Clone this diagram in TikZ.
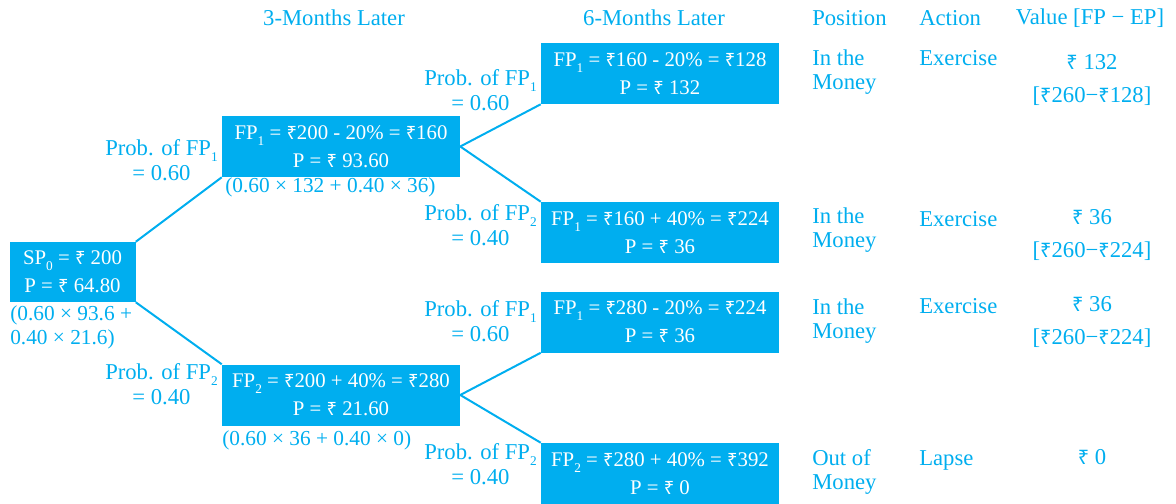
\documentclass[tikz,border=0pt]{standalone}
\usepackage{fontspec}
\setmainfont{Liberation Serif}
\newfontfamily\rsfont[Scale=0.88]{Noto Sans}
\usepackage{tikz}
\usetikzlibrary{positioning}
\definecolor{optcyan}{RGB}{0,174,239}
\newcommand{\sub}[1]{\raisebox{-4.5pt}{\fontsize{10}{10}\selectfont #1}}
\newcommand{\Rs}{{\rsfont ₹}}
\tikzset{
  optbox/.style={fill=optcyan,text=white,align=center,inner sep=0pt,
    minimum width=178.5pt,minimum height=45.75pt,
    font=\fontsize{15.6}{21}\selectfont},
  optlbl/.style={text=optcyan,inner sep=0pt,
    font=\fontsize{17}{18.5}\selectfont},
  optsum/.style={optlbl,font=\fontsize{16}{18.5}\selectfont},
  optlink/.style={optcyan,line width=1.5pt}
}
\begin{document}
\begin{tikzpicture}[x=0.75pt,y=-0.75pt]
    \useasboundingbox (0,0) rectangle (1176,503);
    % headers
    \node[optlbl] (hthree) at (334,18) {3-Months Later};
    \node[optlbl] (hsix) at (654,18) {6-Months Later};
    \node[optlbl,anchor=west] (hpos) at (812,18) {Position};
    \node[optlbl,anchor=west] (hact) at (919,18) {Action};
    \node[optlbl] (hval) at (1090,18) {Value [FP − EP]};
    % tree boxes
    \node[optbox,minimum width=94.5pt,minimum height=45pt] (sp) at (72.5,272)
      {SP\sub{0} = \Rs\ 200\\P = \Rs\ 64.80};
    \node[optbox] (a) at (341,146.5) {FP\sub{1} = \Rs200 - 20\% = \Rs160\\P = \Rs\ 93.60};
    \node[optbox] (b) at (341,395) {FP\sub{2} = \Rs200 + 40\% = \Rs280\\P = \Rs\ 21.60};
    \node[optbox] (aa) at (660,73.5) {FP\sub{1} = \Rs160 - 20\% = \Rs128\\P = \Rs\ 132};
    \node[optbox] (ab) at (660,232.5) {FP\sub{1} = \Rs160 + 40\% = \Rs224\\P = \Rs\ 36};
    \node[optbox] (ba) at (660,322) {FP\sub{1} = \Rs280 - 20\% = \Rs224\\P = \Rs\ 36};
    \node[optbox] (bb) at (660,473.5) {FP\sub{2} = \Rs280 + 40\% = \Rs392\\P = \Rs\ 0};
    % branches
    \draw[optlink] (sp.north east) -- (a.south west);
    \draw[optlink] (sp.south east) -- (b.north west);
    \draw[optlink] (a.east) -- (aa.south west);
    \draw[optlink] (a.east) -- (ab.north west);
    \draw[optlink] (b.east) -- (ba.south west);
    \draw[optlink] (b.east) -- (bb.north west);
    % probabilities
    \node[optlbl,align=center,anchor=east] (pa) at (218,160) {Prob. of FP\sub{1}\\= 0.60};
    \node[optlbl,align=center,anchor=east] (pb) at (218,384) {Prob. of FP\sub{2}\\= 0.40};
    \node[optlbl,align=center,anchor=east] (paa) at (537,90) {Prob. of FP\sub{1}\\= 0.60};
    \node[optlbl,align=center,anchor=east] (pab) at (537,225) {Prob. of FP\sub{2}\\= 0.40};
    \node[optlbl,align=center,anchor=east] (pba) at (537,321) {Prob. of FP\sub{1}\\= 0.60};
    \node[optlbl,align=center,anchor=east] (pbb) at (537,464) {Prob. of FP\sub{2}\\= 0.40};
    % expected values
    \node[optsum,align=left,anchor=north west] (esp) at (10,305) {(0.60 × 93.6 +\\0.40 × 21.6)};
    \node[optsum,anchor=west] (ea) at (225,187) {(0.60 × 132 + 0.40 × 36)};
    \node[optsum,anchor=west] (eb) at (222,440) {(0.60 × 36 + 0.40 × 0)};
    % outcome columns
    \node[optlbl,align=left,anchor=west] (posa) at (812,72) {In the\\Money};
    \node[optlbl,align=left,anchor=west] (posb) at (812,230) {In the\\Money};
    \node[optlbl,align=left,anchor=west] (posc) at (812,321) {In the\\Money};
    \node[optlbl,align=left,anchor=west] (posd) at (812,472) {Out of\\Money};
    \node[optlbl,anchor=west] (acta) at (919,58) {Exercise};
    \node[optlbl,anchor=west] (actb) at (919,219) {Exercise};
    \node[optlbl,anchor=west] (actc) at (919,306) {Exercise};
    \node[optlbl,anchor=west] (actd) at (919,460) {Lapse};
    \node[optlbl,align=center,font=\fontsize{17}{25}\selectfont] (vala) at (1092,80) {\Rs\ 132\\{[\Rs260−\Rs128]}};
    \node[optlbl,align=center,font=\fontsize{17}{25}\selectfont] (valb) at (1092,235) {\Rs\ 36\\{[\Rs260−\Rs224]}};
    \node[optlbl,align=center,font=\fontsize{17}{25}\selectfont] (valc) at (1092,322) {\Rs\ 36\\{[\Rs260−\Rs224]}};
    \node[optlbl] (vald) at (1092,457) {\Rs\ 0};
  \end{tikzpicture}
\end{document}
